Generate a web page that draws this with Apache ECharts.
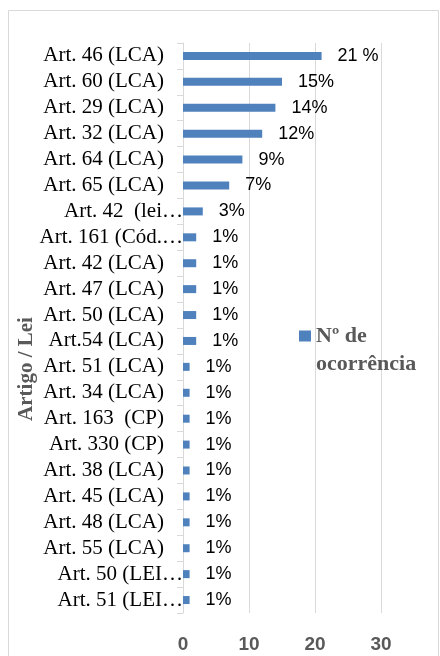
<!DOCTYPE html>
<html>
<head>
<meta charset="utf-8">
<script src="https://cdn.jsdelivr.net/npm/echarts@6/dist/echarts.min.js"></script>
<style>html,body{margin:0;padding:0;background:#fff;}#c{width:440px;height:656px;}</style>
</head>
<body>
<div id="c"></div>
<script>
const categories = ['Art. 46 (LCA)','Art. 60 (LCA)','Art. 29 (LCA)','Art. 32 (LCA)','Art. 64 (LCA)','Art. 65 (LCA)','Art. 42  (lei…','Art. 161 (Cód.…','Art. 42 (LCA)','Art. 47 (LCA)','Art. 50 (LCA)','Art.54 (LCA)','Art. 51 (LCA)','Art. 34 (LCA)','Art. 163  (CP)','Art. 330 (CP)','Art. 38 (LCA)','Art. 45 (LCA)','Art. 48 (LCA)','Art. 55 (LCA)','Art. 50 (LEI…','Art. 51 (LEI…'];
const values = [21,15,14,12,9,7,3,2,2,2,2,2,1,1,1,1,1,1,1,1,1,1];
const valueLabels = ['21 %','15%','14%','12%','9%','7%','3%','1%','1%','1%','1%','1%','1%','1%','1%','1%','1%','1%','1%','1%','1%','1%'];
const xTicks = [0,10,20,30];
const seriesName = 'Nº de ocorrência';
const legendLines = ['Nº de', 'ocorrência'];
const axisTitle = 'Artigo / Lei';

const chart = echarts.init(document.getElementById('c'), null, {renderer:'canvas'});
const serif = 'Liberation Serif, Times New Roman, serif';
const sans = 'Liberation Sans, Arial, sans-serif';
chart.setOption({
  animation: false,
  backgroundColor: '#fff',
  grid: {left: 183, right: 59, top: 43, bottom: 43, containLabel: false},
  xAxis: {
    type: 'value', min: xTicks[0], max: xTicks[xTicks.length-1], interval: 10,
    axisLine: {show: false}, axisTick: {show: false},
    splitLine: {show: true, lineStyle: {color: '#d9d9d9', width: 1}},
    axisLabel: {margin: 22, fontFamily: sans, fontSize: 19, fontWeight: 'bold', color: '#595959'}
  },
  yAxis: {
    type: 'category', inverse: true, data: categories,
    axisLine: {show: true, lineStyle: {color: '#d9d9d9', width: 1}},
    axisTick: {show: true, length: 6, interval: 0, lineStyle: {color: '#d9d9d9'}},
    axisLabel: {
      interval: 0, margin: 0, fontFamily: serif, fontSize: 21, color: '#000',
      formatter: v => v.endsWith('…') ? '{t|' + v + '}' : '{n|' + v + '}',
      rich: {
        n: {fontFamily: serif, fontSize: 21, color: '#000', padding: [0, 19, 0, 0]},
        t: {fontFamily: serif, fontSize: 21, color: '#000', padding: [0, 0, 0, 0]}
      }
    }
  },
  legend: {
    show: true, orient: 'vertical', left: 299, top: 322, padding: 0,
    icon: 'path://M0,0L12,0L12,11L0,11Z M0,39L0.01,39L0.01,38.99Z',
    itemWidth: 12, itemHeight: 39, itemGap: 5,
    data: [seriesName],
    formatter: () => legendLines.join('\n'),
    textStyle: {fontFamily: serif, fontSize: 22, fontWeight: 'bold', color: '#595959', lineHeight: 28}
  },
  series: [{
    name: seriesName, type: 'bar', data: values, barWidth: 8,
    itemStyle: {color: '#4f81bd'},
    label: {
      show: true, position: 'right', distance: 16,
      fontFamily: sans, fontSize: 18, color: '#000',
      formatter: p => valueLabels[p.dataIndex]
    }
  }],
  graphic: [
    {type: 'rect', shape: {x: 8.5, y: 10.5, width: 430, height: 700}, style: {fill: 'none', stroke: '#d9d9d9', lineWidth: 1}, silent: true, z: -1},
    {type: 'text', x: 27, y: 369, rotation: Math.PI/2, style: {text: axisTitle, fontFamily: serif, fontSize: 21, fontWeight: 'bold', fill: '#595959', align: 'center', verticalAlign: 'middle'}}
  ]
});
</script>
</body>
</html>
